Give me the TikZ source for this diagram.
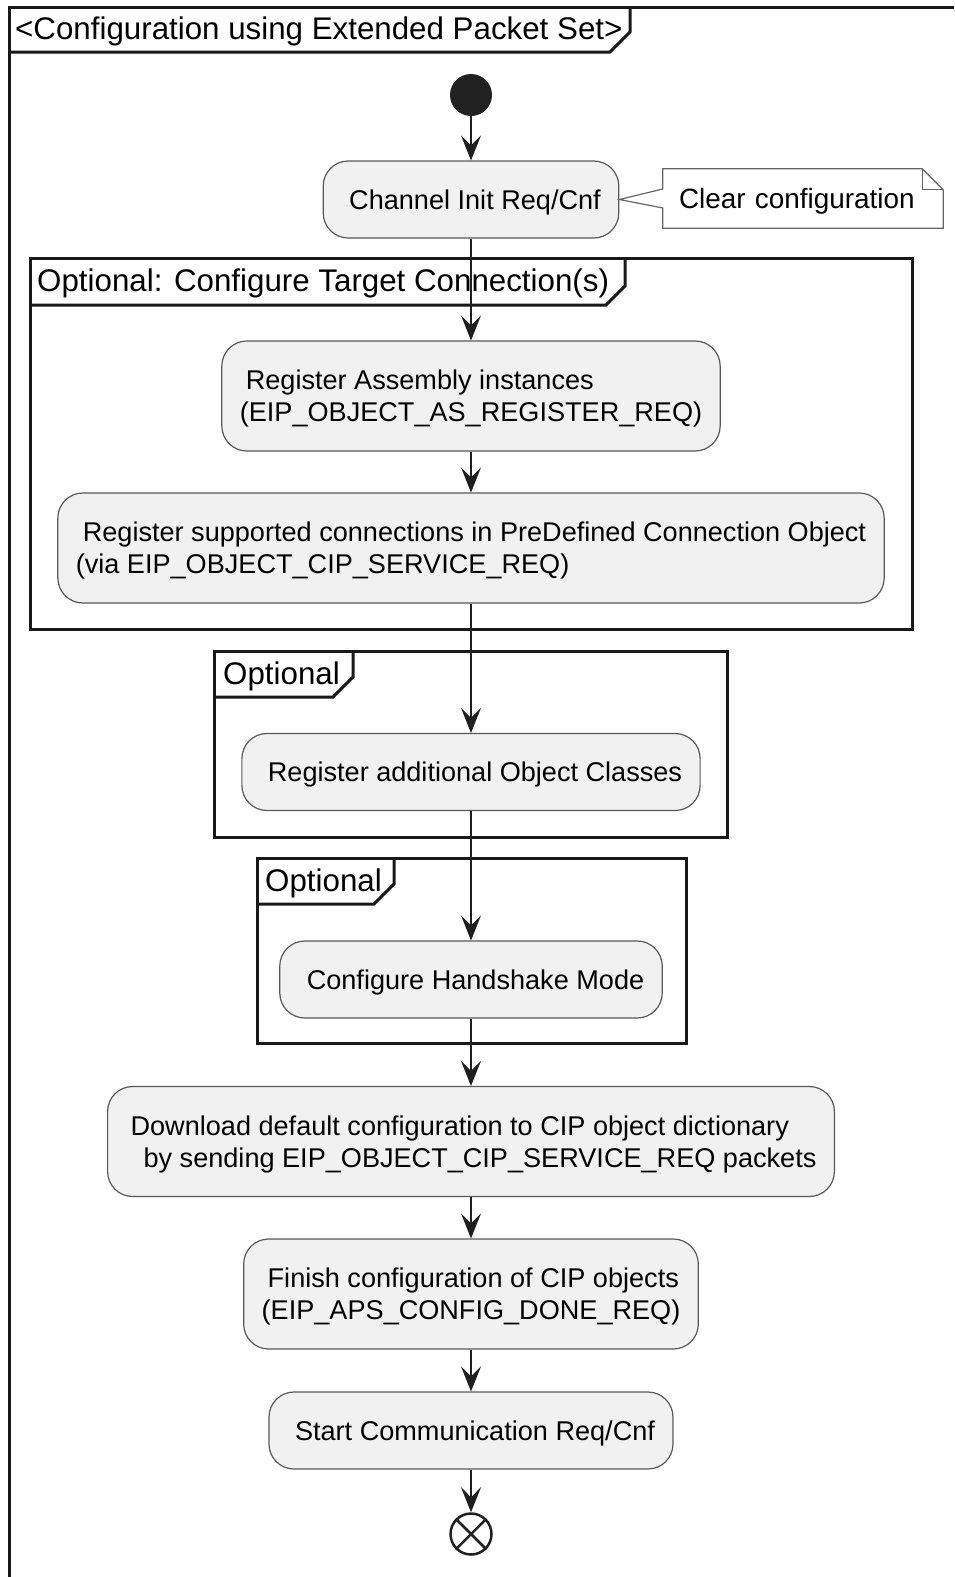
\documentclass[tikz,border=0pt]{standalone}
\usepackage{fontspec}
\setmainfont{Liberation Sans}
\usetikzlibrary{arrows.meta, positioning, calc}

\begin{document}
\begin{tikzpicture}[x=1pt, y=-1pt, every node/.style={font=\fontsize{27.1}{32}\selectfont},
      act/.style={rectangle, rounded corners=25pt, draw=black!65, line width=1.2pt, fill=black!5.5, inner xsep=18pt, inner ysep=0pt, align=left, text depth=0pt, minimum height=77pt},
      twoline/.style={minimum height=110pt},
      grp/.style={line width=3pt, draw=black!90},
      grptitle/.style={anchor=west, inner sep=0pt, font=\fontsize{31.3}{36}\selectfont},
      notebox/.style={inner xsep=16pt, inner ysep=0pt, align=left, text depth=0pt, minimum height=59pt, font=\fontsize{27.9}{32}\selectfont},
      notedraw/.style={draw=black!60, line width=1.2pt},
      flow/.style={-{Stealth[length=25pt, width=20pt, inset=10pt]}, line width=2pt, draw=black!88}]

      \useasboundingbox (0,0) rectangle (954,1577);

      % Frames
      \draw[grp] (9,1577) -- (9,7) -- (954,7);
      \draw[grp] (9,52) -- (610,52) -- (630,32) -- (630,7);
      \node[grptitle] (maintitle) at (15,31) {<Configuration using Extended Packet Set>};

      \draw[grp] (30,258) rectangle (912,629);
      \draw[grp] (30,305) -- (606,305) -- (625,286) -- (625,258);
      \node[grptitle] (targettitle) at (37,283) {Optional: Configure Target Connection(s)};

      \draw[grp] (214,651) rectangle (727,837);
      \draw[grp] (214,697) -- (333,697) -- (353,677) -- (353,651);
      \node[grptitle] (objtitle) at (223,676) {Optional};

      \draw[grp] (257,858) rectangle (686,1043);
      \draw[grp] (257,904) -- (374,904) -- (394,884) -- (394,858);
      \node[grptitle] (handtitle) at (265,883) {Optional};

      % Blocks
      \node[circle, fill=black!87, minimum size=42pt, inner sep=0pt] (start) at (471,95) {};
      \node[act] (chan) at (471,199.5) {\hspace*{8pt}Channel Init Req/Cnf};
      \node[act, twoline] (regasm) at (471,396) {\hspace*{6pt}Register Assembly instances\\(EIP\_OBJECT\_AS\_REGISTER\_REQ)};
      \node[act, twoline] (regconn) at (471,548) {\hspace*{7pt}Register supported connections in PreDefined Connection Object\\(via EIP\_OBJECT\_CIP\_SERVICE\_REQ)};
      \node[act] (regobj) at (471,772) {\hspace*{8pt}Register additional Object Classes};
      \node[act] (hand) at (471,979.5) {\hspace*{9pt}Configure Handshake Mode};
      \node[act, twoline] (download) at (471,1141.5) {\hspace*{5pt}Download default configuration to CIP object dictionary\\\hspace*{18pt}by sending EIP\_OBJECT\_CIP\_SERVICE\_REQ packets};
      \node[act, twoline] (finish) at (471,1294) {\hspace*{6pt}Finish configuration of CIP objects\\(EIP\_APS\_CONFIG\_DONE\_REQ)};
      \node[act] (startcom) at (471,1430.5) {\hspace*{8pt}Start Communication Req/Cnf};
      \node[circle, draw=black!87, line width=2.5pt, fill=white, minimum size=41pt, inner sep=0pt] (stop) at (471,1534) {};
      \draw[line width=2.5pt, black!87] (stop.45) -- (stop.225) (stop.135) -- (stop.315);

      % Note
      \node[notebox, text width=248pt] (note) at (803,198.5) {Clear configuration};
      \draw[notedraw] (note.north west) -- ([xshift=-21pt]note.north east) -- ([yshift=-21pt]note.north east) -- (note.south east) -- (note.south west) -- ([yshift=-9.5pt]note.west) -- (chan.east) -- ([yshift=9.5pt]note.west) -- cycle;
      \draw[notedraw] ([xshift=-21pt]note.north east) |- ([yshift=-21pt]note.north east);

      % Arrows
      \foreach \a/\b in {start/chan, chan/regasm, regasm/regconn, regconn/regobj, regobj/hand, hand/download, download/finish, finish/startcom, startcom/stop} {
        \draw[flow] (\a) -- (\b);
      }
    \end{tikzpicture}
\end{document}
